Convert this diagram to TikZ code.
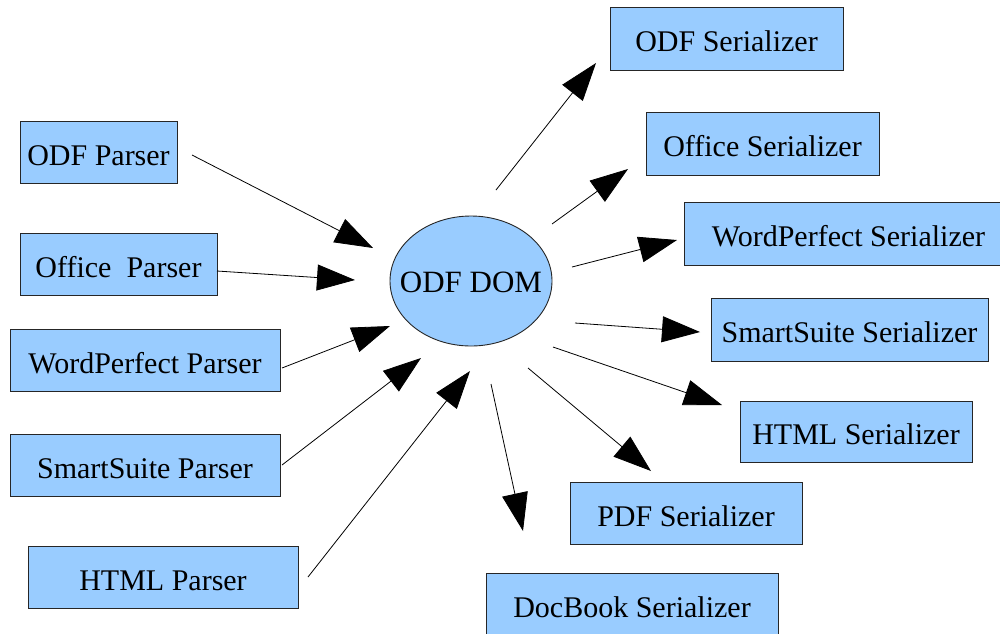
\documentclass[tikz,border=0pt]{standalone}
\usepackage{fontspec}
\setmainfont{Liberation Serif}
\usetikzlibrary{arrows.meta,shapes.geometric}
\definecolor{boxblue}{HTML}{99CCFF}
\begin{document}
\begin{tikzpicture}[x=1pt,y=-1pt,
  box/.style={draw=black!85, fill=boxblue, line width=0.9pt, inner sep=0pt, minimum height=62pt, text height=26pt, text depth=0pt, font=\fontsize{30}{36}\selectfont},
  dom/.style={ellipse, draw=black!85, fill=boxblue, line width=0.9pt, inner sep=0pt, minimum width=162pt, minimum height=130pt},
  domtext/.style={inner sep=0pt, text height=22pt, text depth=0pt, font=\fontsize{31}{36}\selectfont},
  conn/.style={line width=0.8pt, -{Triangle[length=38pt,width=26pt]}}]
\useasboundingbox (0,0) rectangle (1000,633);
% parsers
\node[box, minimum width=157pt] (p1) at (98.5,152.5) {ODF Parser};
\node[box, minimum width=197pt] (p2) at (118.5,264) {Office~~Parser};
\node[box, minimum width=270pt] (p3) at (145,360) {WordPerfect Parser};
\node[box, minimum width=270pt] (p4) at (145,465.5) {SmartSuite Parser};
\node[box, minimum width=270pt] (p5) at (163,577.5) {HTML Parser};
% center
\node[dom] (dom) at (471,281) {};
\node[domtext] (domlabel) at (dom.center) {ODF DOM};
% serializers
\node[box, minimum width=233pt, minimum height=63pt] (s1) at (726.5,38.5) {ODF Serializer};
\node[box, minimum width=233pt, minimum height=63pt] (s2) at (762.5,143.5) {Office Serializer};
\node[box, minimum width=329pt, minimum height=63pt] (s3) at (848.5,233.5) {WordPerfect Serializer};
\node[box, minimum width=277pt, minimum height=63pt] (s4) at (849.5,329.5) {SmartSuite Serializer};
\node[box, minimum width=232pt, minimum height=61pt] (s5) at (856,431.5) {HTML Serializer};
\node[box, minimum width=232pt] (s6) at (686,513) {PDF Serializer};
\node[box, minimum width=292pt] (s7) at (632,604.5) {DocBook Serializer};
% connector ends
\coordinate (a1s) at (192,155);  \coordinate (a1e) at (373,248);
\coordinate (a2s) at (217,271);  \coordinate (a2e) at (355,280);
\coordinate (a3s) at (282,368);  \coordinate (a3e) at (390,326);
\coordinate (a4s) at (282,465);  \coordinate (a4e) at (421,358);
\coordinate (a5s) at (308,577);  \coordinate (a5e) at (470,371);
\coordinate (b1s) at (496,190);  \coordinate (b1e) at (596,63);
\coordinate (b2s) at (552,224);  \coordinate (b2e) at (628,169);
\coordinate (b3s) at (572,267);  \coordinate (b3e) at (677,240);
\coordinate (b4s) at (575,323);  \coordinate (b4e) at (700,332);
\coordinate (b5s) at (553,347);  \coordinate (b5e) at (722,405);
\coordinate (b6s) at (528,368);  \coordinate (b6e) at (651,471);
\coordinate (b7s) at (491,384);  \coordinate (b7e) at (523,531);
\foreach \a in {a1,a2,a3,a4,a5,b1,b2,b3,b4,b5,b6,b7}
  \draw[conn] (\a s) -- (\a e);
\end{tikzpicture}
\end{document}
